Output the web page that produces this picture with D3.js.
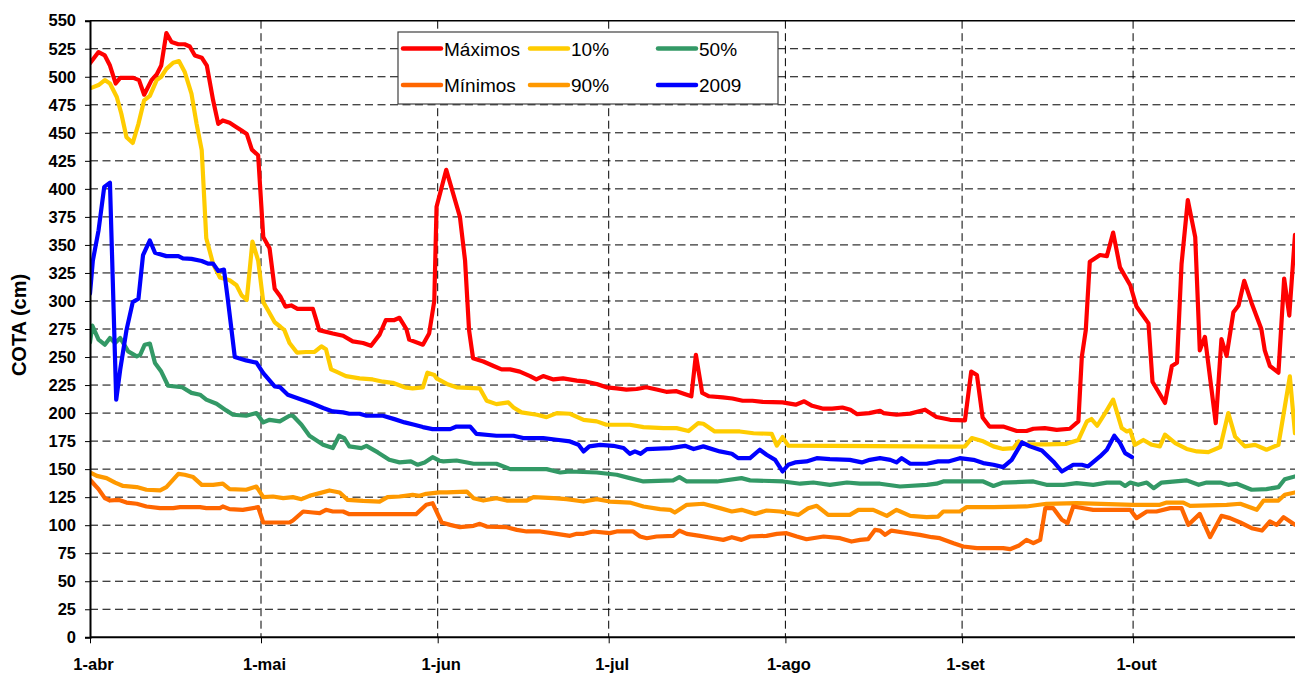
<!DOCTYPE html>
<html>
<head>
<meta charset="utf-8">
<script src="https://cdn.jsdelivr.net/npm/d3@7"></script>
<style>
  body { margin: 0; background: #fff; }
  svg { display: block; font-family: Arial, "Liberation Sans", sans-serif; }
  .grid line { stroke: #000; stroke-width: 1; stroke-dasharray: 8,4.5; }
  .axis path, .axis line { stroke: #000; }
</style>
</head>
<body>
<svg id="chart" width="1295" height="673"></svg>
<script>
// x = days since 1-abr, y = cota (cm)
var monthStarts = [0, 30, 61, 91, 122, 153, 183];
var monthLabels = ["1-abr", "1-mai", "1-jun", "1-jul", "1-ago", "1-set", "1-out"];
var yTicks = d3.range(0, 551, 25);

var maximos = [[0,512],[1.5,522],[2.6,519],[3.5,510],[4.5,494],[5.3,499],[7.6,499],[8.6,497],[9.5,484],[10.8,497],[11.7,502],[12.5,510],[13.4,539],[14.3,531],[15.5,529],[16.6,529],[17.5,527],[18.4,519],[19.6,517],[20.5,510],[21.6,479],[22.5,458],[23.3,461],[24.5,459],[25.7,455],[26.6,452],[27.5,449],[28.4,435],[29.5,430],[30.4,357],[31.5,347],[32.4,311],[33.4,304],[34.3,295],[35.3,296],[36.4,293],[39.1,293],[39.7,283],[40.2,274],[42.6,271],[44.4,269],[46.1,264],[47.9,262.5],[49.3,260],[50.8,270],[51.9,283],[53.4,283],[54.3,285],[55.5,275],[56,265.5],[58.4,261],[59.5,271],[60.4,300],[60.8,384],[62.5,417],[64.9,375],[65.8,336],[66.5,274],[67.2,249],[69,246],[70.8,242],[72.2,239],[73.7,239],[75.4,237],[77.2,233],[78.3,230],[79.5,233],[81.3,230],[83,231],[85.4,229],[87.1,228],[88.9,226],[90.6,223],[92.4,222],[94.1,221],[95.9,221.5],[97.6,223],[99.4,221],[101.1,219],[102.9,219.5],[104.3,217],[105.5,215],[106.3,252],[107.4,218],[108.6,215],[111,214],[112.7,213],[114.5,211],[116.2,211],[118,210],[121.5,209.5],[123.8,207.5],[125.3,210.5],[126.7,206.5],[128.5,204],[130.2,204],[132,205],[133.4,203],[134.6,199],[136.7,200],[138.6,202],[139.2,200],[141.5,198.5],[143.9,199.5],[146.5,203],[148.5,196.5],[150.9,194],[153.5,193.5],[154.6,237],[155.6,234],[156.6,196],[157.8,188],[160.2,188],[162.6,184],[164.3,184],[165.5,186],[167.5,186.6],[169.6,185],[171.9,186],[173.4,192.6],[174,250],[174.7,274],[175.4,335],[177.2,341],[178.4,340],[179.5,361],[180.7,330],[182.5,314],[183.6,295],[185.7,280],[186.4,228],[188.6,209],[189.8,242],[190.7,245],[191.5,333],[192.6,390],[193.9,357],[194.7,256],[195.6,268],[197.5,191],[198.5,266],[199.4,251],[200.6,290],[201.5,296],[202.5,318],[203.8,298],[205.5,275],[206.1,256],[207,242],[208.5,236],[209.5,320],[210.4,287],[211.4,359]];

var p10 = [[0,489.6],[1.5,492.6],[2.6,497],[3.5,494],[4.7,482],[5.5,467],[6.4,446],[7.5,441],[8.5,458],[9.5,479],[10.5,483],[11.7,497],[12.5,500],[13.4,507],[14.6,512.5],[15.6,514],[16.6,504.5],[17.8,485],[18.7,458],[19.6,434.5],[20.4,356],[21.6,333],[22.8,321],[24.5,318.5],[25.7,314],[26.6,305],[27.5,301],[28.5,353],[29.5,336],[30.4,299],[31.2,292],[32.4,281],[33.4,277],[34.1,274],[35,262.5],[36.3,254],[37.9,254.5],[39.4,254.5],[40.6,259.5],[41.4,257],[42.3,239],[43.2,237],[44.9,233],[47.3,231],[49.6,230],[51.4,228],[53.1,227],[55.2,223],[56.6,222],[58.4,223],[59.2,236],[60.4,234],[60.8,231],[62.6,226],[64.3,223],[68.4,222],[69.6,211],[71.3,208],[73.4,209.5],[74.3,205],[75.7,200.6],[78.4,198.5],[80.1,196.4],[81.9,200],[84.2,199.4],[86.6,194],[88.9,192.6],[90.6,189.6],[94.7,189.6],[97.1,187.5],[100.6,186.6],[102.9,186.6],[105,184],[106.7,191],[107.6,190.5],[109.6,183.6],[114,183.6],[116.4,182],[119.6,181.5],[120.5,171],[121.5,178.6],[122.5,171],[152.6,170],[153.5,170.3],[154.7,177.7],[156.7,174.8],[158.5,170.3],[160.2,168],[162,168.8],[162.9,174.7],[164.3,172],[167.8,172],[171.3,172.6],[173.4,176],[174.9,192.6],[175.7,194.7],[176.7,188.7],[178.1,200],[179.5,212],[181,186.6],[181.9,183.6],[182.5,184.6],[183.3,171.7],[184.8,176],[186.3,171.7],[187.7,170.3],[188.6,180.7],[190.4,173.3],[192.4,168],[194.2,165.8],[196.2,165.2],[198.3,169.7],[199.7,200],[200.9,179],[202.6,170.3],[204.4,171.7],[206.4,167.3],[208.5,171.7],[210.5,232.7],[211.4,182]];

var p50 = [[0,263],[0.4,278],[1.5,265.5],[2.6,261],[3.5,267],[4.4,262.5],[5.3,267],[6.7,255],[8.2,250.6],[8.8,252],[9.6,261],[10.5,262],[11.4,244.6],[12.5,237],[13.7,224.4],[16.1,223.2],[17.8,218],[19.3,216.4],[20.4,212],[22.2,208.3],[23.9,202.4],[25.1,198.5],[27.4,197.6],[29.2,200],[30.4,191.7],[31.5,194],[33.3,192.6],[35,197.6],[35.6,197.6],[37.1,189.6],[38.5,179.8],[40.9,171.7],[42.6,168.8],[43.7,179.8],[44.6,177.7],[45.5,170.3],[47.6,168.8],[48.5,170.8],[50.5,164.9],[52.5,158.3],[54.3,156],[56.3,156.9],[57.5,153.9],[58.7,156],[60.1,160.7],[61.3,157.5],[62,156.9],[64.3,157.7],[67.3,154.8],[71.3,154.8],[73.7,150],[80.1,150],[82.5,147],[84.2,147.9],[88.9,147],[92.4,145],[94.7,142],[97.1,139],[102.3,140],[103.4,142.9],[104.7,139],[110,139],[114.3,142],[115.8,140],[121.6,139],[124.6,137],[126.9,138.1],[129.8,136],[132.8,138.1],[135.1,137],[138.6,137],[142.1,134.5],[146.8,136],[148.5,137],[149.7,139],[156.7,139],[158.5,135],[160.2,138],[165.5,139],[167.8,136],[170.8,136],[173.1,137.5],[176,136],[178.4,138],[180.7,138],[181.6,135],[182.5,138],[183.9,136],[185.4,138],[186.6,133],[188,138],[192.4,140],[194.5,136],[195.9,138],[198.3,138],[199.7,136],[201.2,137],[203.8,131.6],[206.4,132.2],[208.5,134],[209.6,141],[211.4,143.5]];

var p90 = [[0,147],[1.2,144],[2.9,142],[4.4,138],[5.8,135],[8.2,134],[9.9,131.6],[12.3,131],[13.4,134],[15.5,145.8],[16.6,145],[18.1,142.9],[19.6,136],[21.6,136],[23.3,137],[24.5,132.2],[27.4,131.6],[29.2,134.5],[30.4,125],[32.1,125.6],[33.9,124.1],[35.6,125],[37.1,123.2],[38.5,126.2],[40.3,128.6],[42,131],[43.8,129.2],[45.2,122.6],[47.9,121.7],[50.8,121.1],[52.2,125],[54.3,125.6],[56.6,127.1],[57.8,126.2],[59,128],[61.3,129.2],[62.6,129.2],[66.1,130],[67.3,124.1],[69,122],[71.3,124.1],[73.1,122],[76.6,122],[77.8,125],[81.3,124.1],[83.6,123.2],[86.6,121.1],[88.9,123.2],[91.2,121.1],[94.7,120.2],[97.1,116.7],[100,114.3],[101.8,113.7],[102.6,111.3],[104.7,118.2],[107.6,119.1],[110.5,115.2],[112.6,112.2],[114.3,113.7],[116.7,110.1],[118.7,113.1],[121.1,112.2],[122.8,110.7],[124.3,109.2],[126,115.2],[127.5,117.3],[129.5,109.2],[133.3,109.2],[134.8,113.7],[137.4,113.7],[139.8,108.3],[141.5,113.7],[143.9,108.3],[146.8,107.2],[148.8,107.7],[149.7,112.2],[152.6,112.2],[153.8,116.1],[158.5,116.1],[164.3,116.7],[167.8,119.1],[173.1,119.6],[183,118.2],[187.7,118.2],[188.9,120.2],[191.8,120.2],[193,117.3],[199.4,118.2],[201.8,119.1],[204.7,113.7],[205.9,122],[208.5,122],[209.6,127.1],[211.4,129.2]];

var minimos = [[0,140.5],[1.5,132.2],[2.6,124.1],[3.5,122],[5,122.6],[6.4,120.2],[8.2,119.1],[9.9,116.7],[12.3,115.2],[14.6,115.2],[15.8,116.1],[19.3,116.1],[20.4,115.2],[22.8,115.2],[23.3,116.7],[24.5,114.3],[26.8,113.7],[29.5,116.1],[30.4,102.4],[35,102.4],[35.6,104.2],[37.4,112.2],[39.1,111.3],[40.3,110.7],[41.4,113.7],[42.6,112.2],[44.4,112.2],[45.5,109.8],[57.2,109.8],[59,118.2],[60.1,119.6],[61.7,102.4],[63.2,100.3],[64.9,98.2],[67.3,99.4],[68.4,101.2],[69.6,98.8],[73.1,98.2],[74.9,95.8],[76.6,94.4],[79,94.4],[81.9,92.3],[84.2,90.5],[85.4,92.3],[86.6,92.3],[88.3,94.4],[91.2,92.9],[92.4,94.4],[95.3,94.4],[96.5,89.9],[97.7,88.4],[99.4,89.9],[102.3,90.5],[103.4,95.2],[104.7,92.3],[107,90.5],[109.4,88.4],[111.1,86.9],[112.6,89.3],[114.3,86.9],[115.8,89.9],[118.7,90.5],[120.5,92.3],[122.2,92.9],[124,89.9],[125.7,87.5],[128.7,89.9],[131.6,88.4],[133.6,85.4],[135.1,86.9],[136.5,87.5],[137.7,95.8],[138.6,95.2],[139.5,91.4],[140.6,95.2],[142.7,93.5],[145.6,91.4],[147.7,89.3],[149.1,88.4],[151.5,83.9],[153.2,81],[155.6,79.5],[160.2,79.5],[161.4,78.6],[162.9,81.6],[164.3,86.9],[165.5,83.9],[166.7,86.9],[167.6,115.2],[169,115.2],[170.5,104.8],[171.5,101.8],[172.5,116.7],[176,113.7],[182.5,113.7],[183.6,106.3],[185.4,112.2],[187.1,112.2],[189.5,115.2],[191.5,115.2],[192.7,100.3],[194.7,110.1],[196.5,89.3],[198.5,108.3],[200,106.3],[201.8,102.4],[203.8,97.3],[205.6,95.2],[207,103.3],[208.2,100.3],[209.4,107.2],[211.4,100.3]];

var y2009 = [[0,306.6],[0.5,336],[1.5,363],[2.5,401.8],[3.5,405.4],[4.6,212],[5.3,238.7],[6.4,274],[7.5,299],[8.5,302],[9.3,340.8],[10.5,354],[11.4,343],[13.4,340],[15.5,340],[16.3,338],[17.8,337.5],[19.6,335.7],[20.7,333.3],[21.6,333.3],[22.5,326.8],[23.5,328],[24.2,300.6],[25.4,250],[27.4,247],[29.2,245],[30.4,235.7],[32.4,223.8],[33.3,223.2],[34.7,216.4],[36.8,212.5],[38.8,209],[40.9,204.5],[42.6,201.5],[44.4,200.6],[45.5,199.4],[47.3,199.4],[48.5,197.6],[51.4,197.6],[53.4,194.6],[55.2,191.7],[56.9,189.6],[58.4,187.5],[60.1,185.7],[63.2,185.7],[64.3,188],[66.7,188],[67.8,181.5],[71.3,179.8],[74.3,179.8],[76,177.7],[79.5,177.7],[81.9,176.2],[84.2,174.7],[85.7,171.7],[86.6,165.8],[87.6,170.3],[89.5,171.7],[91.8,170.8],[93.6,168.8],[94.7,163.7],[95.6,165.8],[96.6,163.7],[97.7,167.9],[101.8,168.8],[104.4,170.8],[105.9,167.9],[107.6,170.3],[110.5,165.8],[112.6,163.7],[113.7,159.8],[115.8,159.8],[117.5,167.3],[118.7,162.8],[120.2,158.3],[121.5,147.9],[122.5,153.9],[123.7,156],[125.7,156.9],[127.5,159.8],[129.8,158.9],[133.3,158.3],[135.4,156],[136.8,158.3],[138.6,159.8],[140.4,158.3],[141.5,156],[142.4,159.8],[143.9,154.8],[146.8,154.8],[148.8,156.9],[150.6,156.9],[152.6,159.8],[155,158.3],[156.7,155.4],[158.5,153.9],[160.2,151.8],[161.7,158.3],[163.5,173.8],[164.9,170.3],[167,166.7],[169,156.9],[170.5,147.9],[172.5,153.9],[174,153.9],[175.1,152.4],[177.2,161.3],[178.4,167.3],[179.7,179.8],[180.7,173.3],[181.6,164.3],[182.8,160.7]];

var seriesNames = ["Máximos", "10%", "50%", "Mínimos", "90%", "2009"];
var seriesColors = ["#FF0000", "#FFCC00", "#339966", "#FF6600", "#FF9900", "#0000FF"];
var seriesData = [maximos, p10, p50, minimos, p90, y2009];
var drawOrder = [0, 1, 2, 4, 3, 5];

var svg = d3.select("svg#chart");
var width = 1295, height = 673;
var plotLeft = 90, plotTop = 20.7, plotBottom = 637.3;
var fontFam = "Arial, 'Liberation Sans', sans-serif";

// 5.7 px per day; the plot runs past the right edge of the picture
var x = d3.scaleLinear().domain([0, 214]).range([plotLeft, plotLeft + 214 * 5.7]);
var y = d3.scaleLinear().domain([0, 550]).range([plotBottom, plotTop]);

svg.append("clipPath").attr("id", "plotclip")
  .append("rect").attr("x", plotLeft).attr("y", plotTop - 5)
  .attr("width", width - plotLeft).attr("height", plotBottom - plotTop + 5);

// grid
var grid = svg.append("g").attr("class", "grid");
grid.selectAll("line.h")
  .data(yTicks.filter(function(d) { return d > 0 && d < 550; }))
  .enter().append("line").attr("class", "h")
  .attr("x1", plotLeft).attr("x2", width)
  .attr("y1", function(d) { return y(d); })
  .attr("y2", function(d) { return y(d); });
grid.selectAll("line.v")
  .data(monthStarts.filter(function(d) { return d > 0; }))
  .enter().append("line").attr("class", "v")
  .attr("y1", plotTop).attr("y2", plotBottom)
  .attr("x1", function(d) { return x(d); })
  .attr("x2", function(d) { return x(d); });

// top border of the plot area
svg.append("line")
  .attr("x1", plotLeft).attr("x2", width)
  .attr("y1", plotTop).attr("y2", plotTop)
  .attr("stroke", "#000").attr("stroke-width", 1.5);

// lines
var line = d3.line()
  .x(function(d) { return x(d[0]); })
  .y(function(d) { return y(d[1]); });

svg.append("g").attr("clip-path", "url(#plotclip)")
  .selectAll("path")
  .data(drawOrder)
  .enter().append("path")
  .attr("fill", "none")
  .attr("stroke", function(i) { return seriesColors[i]; })
  .attr("stroke-width", 4.2)
  .attr("stroke-linejoin", "round")
  .attr("stroke-linecap", "round")
  .attr("d", function(i) { return line(seriesData[i]); });

// axes
function styleTicks(g) {
  g.selectAll(".tick text")
    .style("font-family", fontFam)
    .style("font-weight", "bold")
    .style("font-size", "16.5px")
    .attr("fill", "#000");
}

var yAxis = d3.axisLeft(y).tickValues(yTicks).tickSize(5).tickPadding(9);
svg.append("g").attr("class", "axis")
  .attr("transform", "translate(" + plotLeft + ",0)")
  .call(yAxis)
  .call(function(g) { g.select(".domain").attr("stroke-width", 2); })
  .call(styleTicks);

var xAxis = d3.axisBottom(x).tickValues(monthStarts).tickSize(6).tickPadding(15)
  .tickFormat(function(d, i) { return monthLabels[i]; });
svg.append("g").attr("class", "axis")
  .attr("transform", "translate(0," + plotBottom + ")")
  .call(xAxis)
  .call(function(g) {
    g.select(".domain").attr("d", "M" + plotLeft + ",0H" + width).attr("stroke-width", 2);
    g.selectAll(".tick text").attr("dx", 3);
  })
  .call(styleTicks);

// y title
svg.append("text")
  .attr("transform", "translate(26,325) rotate(-90)")
  .attr("text-anchor", "middle")
  .style("font-family", fontFam)
  .style("font-weight", "bold")
  .style("font-size", "20px")
  .text("COTA (cm)");

// legend
var legendX = 398, legendY = 32, legendW = 380, legendH = 72;
var colX = [403, 530, 658], rowY = [48.5, 85], sampleLen = 38;
var legend = svg.append("g");
legend.append("rect")
  .attr("x", legendX).attr("y", legendY)
  .attr("width", legendW).attr("height", legendH)
  .attr("fill", "#fff").attr("stroke", "#404040").attr("stroke-width", 1.2);

var item = legend.selectAll("g.item")
  .data(seriesNames)
  .enter().append("g").attr("class", "item")
  .attr("transform", function(d, i) {
    return "translate(" + colX[i % 3] + "," + rowY[Math.floor(i / 3)] + ")";
  });
item.append("line")
  .attr("x1", 0).attr("x2", sampleLen)
  .attr("stroke", function(d, i) { return seriesColors[i]; })
  .attr("stroke-width", 4.5).attr("stroke-linecap", "round");
item.append("text")
  .attr("x", sampleLen + 3).attr("y", 7)
  .style("font-family", fontFam)
  .style("font-size", "19px")
  .text(function(d) { return d; });
</script>
</body>
</html>
